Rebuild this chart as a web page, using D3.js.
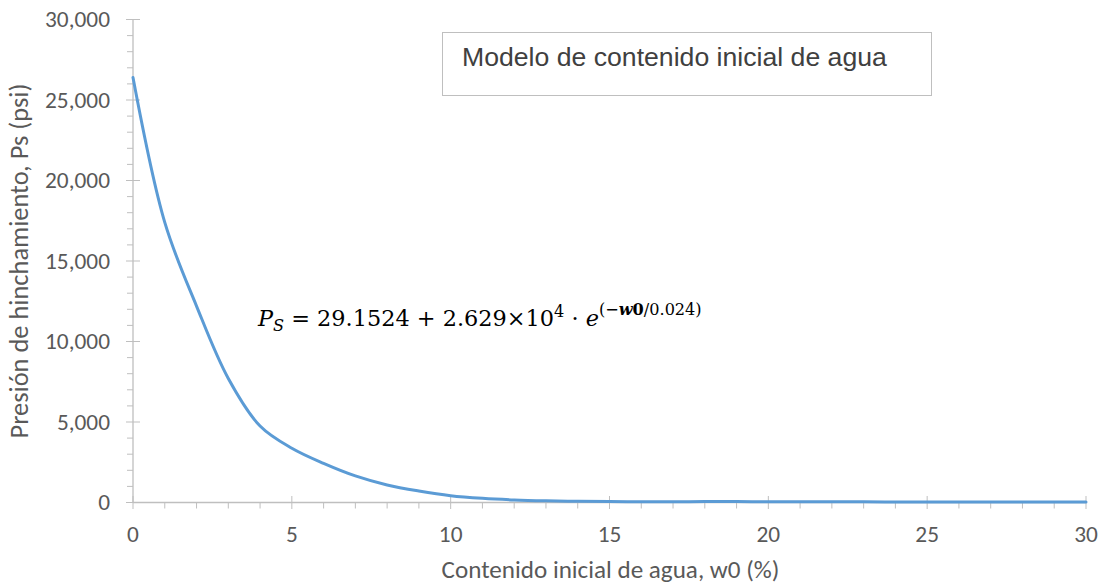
<!DOCTYPE html>
<html>
<head>
<meta charset="utf-8">
<script src="https://cdn.jsdelivr.net/npm/d3@7"></script>
<style>
  body { margin: 0; background: #fff; }
  svg { display: block; }
</style>
</head>
<body>
<svg id="chart" width="1102" height="586"></svg>
<script>
// ---- data ----
const waterContent = [0,1,2,3,4,5,6,7,8,9,10,11,12,13,14,15,16,17,18,19,20,21,22,23,24,25,26,27,28,29,30];
const swellPressure = [26400,17400,12200,7700,4750,3370,2430,1650,1090,715,425,260,160,105,75,55,50,50,55,55,50,45,40,40,35,35,35,35,30,30,30];
const xMajorTicks = [0,5,10,15,20,25,30];
const yMajorTicks = [0,5000,10000,15000,20000,25000,30000];
const xTitle = "Contenido inicial de agua, w0 (%)";
const yTitle = "Presión de hinchamiento, Ps (psi)";
const boxTitle = "Modelo de contenido inicial de agua";

// ---- layout ----
const plotLeft = 133, plotRight = 1086, plotTop = 19.5, plotBottom = 502.5;
const svg = d3.select("#chart");
const x = d3.scaleLinear().domain([0, 30]).range([plotLeft, plotRight]);
const y = d3.scaleLinear().domain([0, 30000]).range([plotBottom, plotTop]);

const axisColor = "#BFBFBF";
const labelColor = "#595959";
const font = "Carlito, Calibri, Lato, sans-serif";

function fitSize(sel, target) {
  const w = sel.node().getComputedTextLength();
  const fs = parseFloat(sel.attr("font-size"));
  return fs * target / w;
}

// minor ticks
const xMinor = d3.range(0, 31, 1).filter(v => v % 5 !== 0);
const yMinor = d3.range(0, 30001, 1000).filter(v => v % 5000 !== 0);

svg.append("g").selectAll("line").data(xMinor).join("line")
  .attr("x1", d => x(d)).attr("x2", d => x(d))
  .attr("y1", plotBottom).attr("y2", plotBottom + 6)
  .attr("stroke", axisColor).attr("stroke-width", 1);
svg.append("g").selectAll("line").data(xMajorTicks).join("line")
  .attr("x1", d => x(d)).attr("x2", d => x(d))
  .attr("y1", plotBottom - 6.5).attr("y2", plotBottom + 6.5)
  .attr("stroke", axisColor).attr("stroke-width", 1);
svg.append("g").selectAll("line").data(yMinor).join("line")
  .attr("x1", plotLeft - 6).attr("x2", plotLeft)
  .attr("y1", d => y(d)).attr("y2", d => y(d))
  .attr("stroke", axisColor).attr("stroke-width", 1);
svg.append("g").selectAll("line").data(yMajorTicks).join("line")
  .attr("x1", plotLeft - 7).attr("x2", plotLeft + 7)
  .attr("y1", d => y(d)).attr("y2", d => y(d))
  .attr("stroke", axisColor).attr("stroke-width", 1);

// axis lines
svg.append("line").attr("x1", plotLeft).attr("x2", plotLeft).attr("y1", plotTop).attr("y2", plotBottom)
  .attr("stroke", axisColor).attr("stroke-width", 1.3);
svg.append("line").attr("x1", plotLeft).attr("x2", plotRight).attr("y1", plotBottom).attr("y2", plotBottom)
  .attr("stroke", axisColor).attr("stroke-width", 1.3);

// tick labels
const fmt = d3.format(",");
const probe = svg.append("text").attr("font-family", font).attr("font-size", 20).text(fmt(30000));
const tickSize = fitSize(probe, 65);
probe.remove();

svg.append("g").selectAll("text").data(yMajorTicks).join("text")
  .attr("x", 110).attr("y", d => y(d) + 7.5)
  .attr("text-anchor", "end")
  .attr("font-family", font).attr("font-size", tickSize)
  .attr("fill", labelColor)
  .text(d => fmt(d));
svg.append("g").selectAll("text").data(xMajorTicks).join("text")
  .attr("x", d => x(d)).attr("y", 542)
  .attr("text-anchor", "middle")
  .attr("font-family", font).attr("font-size", tickSize)
  .attr("fill", labelColor)
  .text(d => d);

// axis titles
const xt = svg.append("text")
  .attr("x", (plotLeft + plotRight) / 2 + 1).attr("y", 578)
  .attr("text-anchor", "middle")
  .attr("font-family", font).attr("font-size", 19)
  .attr("fill", labelColor).text(xTitle);
xt.attr("font-size", fitSize(xt, 338));
const yt = svg.append("text")
  .attr("transform", `translate(28, ${(plotTop + plotBottom) / 2}) rotate(-90)`)
  .attr("text-anchor", "middle")
  .attr("font-family", font).attr("font-size", 19)
  .attr("fill", labelColor).text(yTitle);
yt.attr("font-size", fitSize(yt, 355));

// curve
const line = d3.line()
  .x((d, i) => x(waterContent[i]))
  .y(d => y(d))
  .curve(d3.curveCatmullRom.alpha(0.5));
svg.append("path")
  .datum(swellPressure)
  .attr("d", line)
  .attr("fill", "none")
  .attr("stroke", "#5B9BD5")
  .attr("stroke-width", 3)
  .attr("stroke-linejoin", "round")
  .attr("stroke-linecap", "round");

// title box
svg.append("rect")
  .attr("x", 442.5).attr("y", 32.5).attr("width", 489).attr("height", 63)
  .attr("fill", "#fff").attr("stroke", "#BFBFBF").attr("stroke-width", 1);
const bt = svg.append("text")
  .attr("x", 462).attr("y", 66)
  .attr("font-family", "Liberation Sans, Arial, sans-serif").attr("font-size", 21)
  .attr("fill", "#404040").text(boxTitle);
bt.attr("font-size", fitSize(bt, 425));

// equation
function drawEquation(s) {
  const sub = s * 0.72;
  const eq = svg.append("text")
    .attr("x", 258).attr("y", 326)
    .attr("font-family", "'DejaVu Serif', 'Liberation Serif', serif")
    .attr("font-size", s).attr("fill", "#000");
  eq.append("tspan").attr("font-style", "italic").text("P");
  eq.append("tspan").attr("font-style", "italic").attr("font-size", sub).attr("dy", s * 0.22).text("S");
  eq.append("tspan").attr("dy", -s * 0.22).text(" = 29.1524 + 2.629×10");
  eq.append("tspan").attr("font-size", sub).attr("dy", -s * 0.42).text("4");
  eq.append("tspan").attr("dy", s * 0.42).text(" · ");
  eq.append("tspan").attr("font-style", "italic").text("e");
  eq.append("tspan").attr("font-size", sub).attr("dy", -s * 0.5).text("(−");
  eq.append("tspan").attr("font-size", sub).attr("font-weight", "bold").attr("font-style", "italic").text("w");
  eq.append("tspan").attr("font-size", sub).attr("font-weight", "bold").text("0");
  eq.append("tspan").attr("font-size", sub).text("/0.024)");
  return eq;
}
let eq = drawEquation(20);
const eqW = eq.node().getBBox().width;
eq.remove();
drawEquation(20 * 445 / eqW);
</script>
</body>
</html>
